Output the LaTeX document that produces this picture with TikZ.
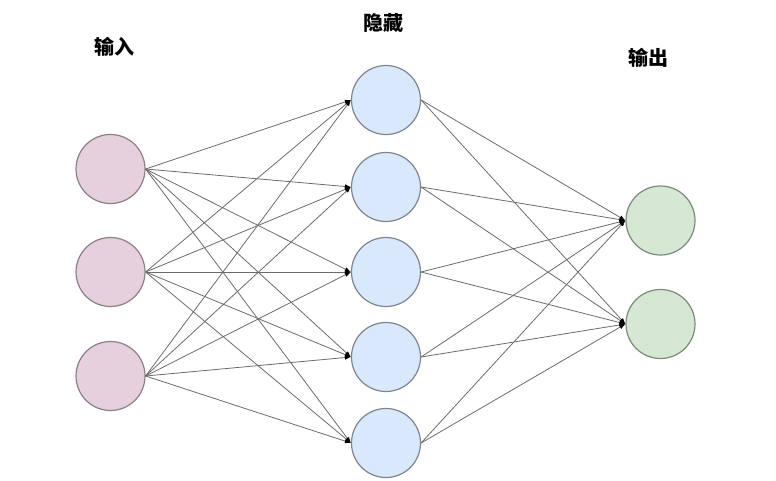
\documentclass[tikz,border=0pt]{standalone}
\usepackage{fontspec}
\newfontfamily\cjk{Noto Sans CJK SC}
\usetikzlibrary{arrows.meta}
\definecolor{infill}{HTML}{E6D0DE}
\definecolor{indraw}{HTML}{8C8088}
\definecolor{hidfill}{HTML}{DAE8FC}
\definecolor{hiddraw}{HTML}{7E8590}
\definecolor{outfill}{HTML}{D5E8D4}
\definecolor{outdraw}{HTML}{7E887C}
\tikzset{
  neuron/.style={circle, minimum size=69pt, inner sep=0pt, line width=1.2pt},
  inneuron/.style={neuron, fill=infill, draw=indraw},
  hidneuron/.style={neuron, fill=hidfill, draw=hiddraw},
  outneuron/.style={neuron, fill=outfill, draw=outdraw},
  conn/.style={draw=black!58, line width=0.8pt, -{Latex[length=6pt,width=4.5pt,fill=black,color=black]}},
  lbl/.style={font=\cjk\bfseries\fontsize{20}{23}\selectfont, inner sep=0pt}
}
\begin{document}
\begin{tikzpicture}[x=1pt,y=-1pt]
\useasboundingbox (0,0) rectangle (776,480);
\node[inneuron] (i1) at (110.5,169) {};
\node[inneuron] (i2) at (110.5,272) {};
\node[inneuron] (i3) at (110.5,376) {};
\node[hidneuron] (h1) at (386,100) {};
\node[hidneuron] (h2) at (386,187) {};
\node[hidneuron] (h3) at (386,272) {};
\node[hidneuron] (h4) at (386,357) {};
\node[hidneuron] (h5) at (386,443) {};
\node[outneuron] (o1) at (660.5,220.5) {};
\node[outneuron] (o2) at (660.5,324) {};
\node[lbl] (l1) at (114,47) {输入};
\node[lbl] (l2) at (383,23) {隐藏};
\node[lbl] (l3) at (648,58) {输出};
\foreach \i in {1,2,3}{
  \foreach \h in {1,...,5}{
    \draw[conn] (i\i.east) -- (h\h.west);
  }
}
\foreach \h in {1,...,5}{
  \foreach \o in {1,2}{
    \draw[conn] (h\h.east) -- (o\o.west);
  }
}
\end{tikzpicture}
\end{document}
